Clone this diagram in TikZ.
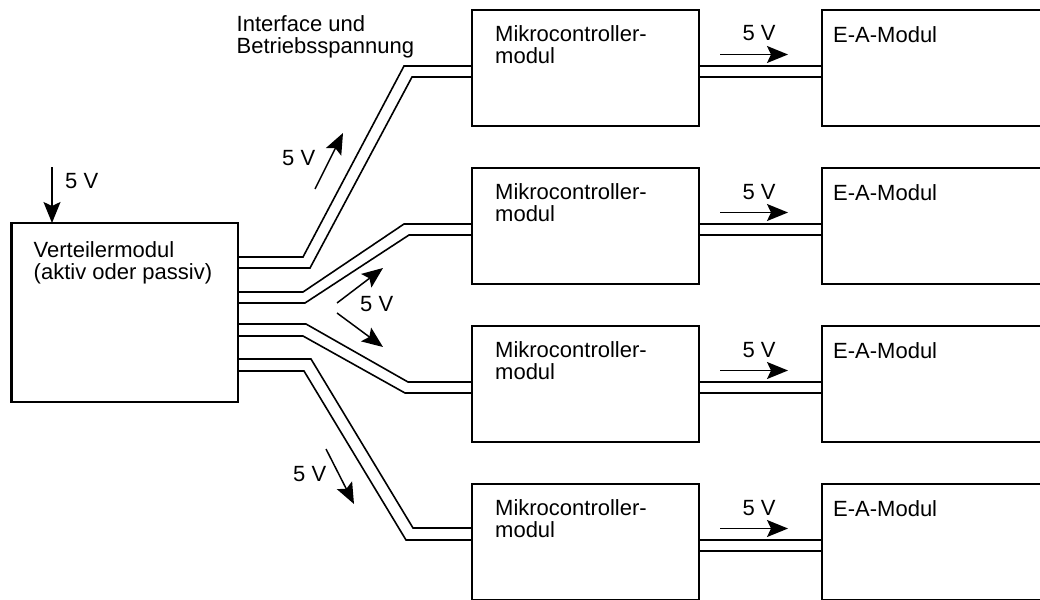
\documentclass[tikz,border=0pt]{standalone}
\usepackage{fontspec}
\setmainfont{Liberation Sans}
\usetikzlibrary{positioning, arrows.meta}
\newcommand{\diagfont}{\fontsize{22}{22.5}\selectfont}

\begin{document}
\begin{tikzpicture}[x=1pt, y=-1pt,
  modbox/.style={rectangle, draw, line width=2.3pt, outer sep=0pt, inner sep=0pt, anchor=north west},
  txt/.style={font=\diagfont, align=left, inner sep=0pt, anchor=north west},
  lbl/.style={font=\diagfont, inner sep=0pt},
  wire/.style={line width=1.6pt},
  arr/.style={-{Stealth[length=21pt, width=17pt, inset=4pt]}, line width=1.5pt}
]
\useasboundingbox (0,0) rectangle (1040,599);
\clip (0,0) rectangle (1040,599);

% ===== Distributor =====
\node[modbox, minimum width=226.5pt, minimum height=179pt] (vm) at (11.5,223) {};
\node[txt] (vmt) at ([xshift=22pt, yshift=-18pt]vm.north west) {Verteilermodul\\(aktiv oder passiv)};
\coordinate (vin) at (52,167);
\draw[arr] (vin) -- (vin |- vm.north);
\node[lbl, anchor=base west] (vinl) at (65,188) {5 V};

\node[txt] (ifc) at (236.5,15) {Interface und\\Betriebsspannung};

% ===== Rows: controller and I/O modules =====
\foreach \i/\t in {1/10, 2/168, 3/326, 4/484}{
  \node[modbox, minimum width=227pt, minimum height=116pt] (mc\i) at (472,\t) {};
  \node[modbox, minimum width=260pt, minimum height=116pt] (ea\i) at (822,\t) {};
  \node[txt] (mct\i) at ([xshift=23pt, yshift=-15pt]mc\i.north west) {Mikrocontroller-\\modul};
  \node[txt] (eat\i) at ([xshift=11pt, yshift=-16pt]ea\i.north west) {E-A-Modul};
  \draw[wire] ([yshift=-56pt]mc\i.north east) -- ([yshift=-56pt]ea\i.north west);
  \draw[wire] ([yshift=-67pt]mc\i.north east) -- ([yshift=-67pt]ea\i.north west);
  \draw[arr] ([xshift=21pt, yshift=-44.5pt]mc\i.north east) -- ([xshift=89pt, yshift=-44.5pt]mc\i.north east);
  \node[lbl, anchor=base] (mcv\i) at ([xshift=60pt, yshift=-31pt]mc\i.north east) {5 V};
}

% ===== Wire pairs =====
\draw[wire] ([yshift=-34pt]vm.north east) -- (303,257) -- (404,66) -- ([yshift=-56pt]mc1.north west);
\draw[wire] ([yshift=-45pt]vm.north east) -- (310,268) -- (412,77) -- ([yshift=-67pt]mc1.north west);
\draw[wire] ([yshift=-69pt]vm.north east) -- (303,292) -- (404,224) -- ([yshift=-56pt]mc2.north west);
\draw[wire] ([yshift=-80pt]vm.north east) -- (305,303) -- (409,235) -- ([yshift=-67pt]mc2.north west);
\draw[wire] ([yshift=-101pt]vm.north east) -- (306,324) -- (408,382) -- ([yshift=-56pt]mc3.north west);
\draw[wire] ([yshift=-113pt]vm.north east) -- (303,336) -- (405,393) -- ([yshift=-67pt]mc3.north west);
\draw[wire] ([yshift=-136pt]vm.north east) -- (311,359) -- (413,528) -- ([yshift=-44pt]mc4.north west);
\draw[wire] ([yshift=-148pt]vm.north east) -- (304,371) -- (406,540) -- ([yshift=-56pt]mc4.north west);

% ===== Voltage arrows =====
\coordinate (d1s) at (315,189); \coordinate (d1e) at (343,133);
\coordinate (d2s) at (337,303); \coordinate (d2e) at (383,268);
\coordinate (d3s) at (337,313); \coordinate (d3e) at (383,347);
\coordinate (d4s) at (326,449); \coordinate (d4e) at (354,504);
\foreach \n in {1,2,3,4}{\draw[arr] (d\n s) -- (d\n e);}
\node[lbl, anchor=base west] (d1l) at (282,165) {5 V};
\node[lbl, anchor=base west] (d2l) at (360,311.5) {5 V};
\node[lbl, anchor=base west] (d4l) at (293,481) {5 V};

\end{tikzpicture}
\end{document}
